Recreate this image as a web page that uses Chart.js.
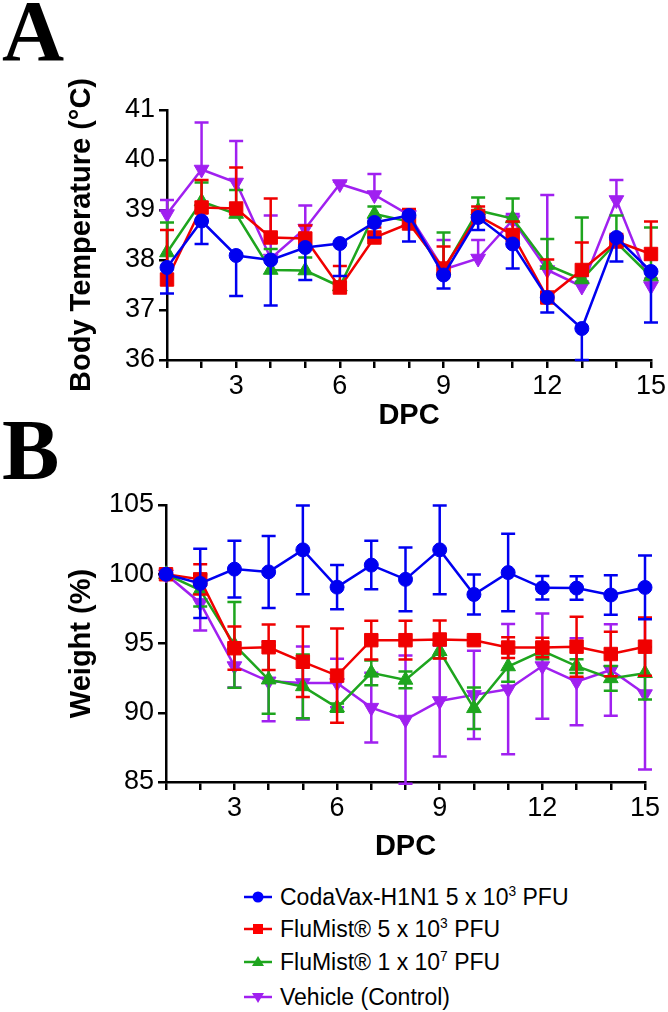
<!DOCTYPE html>
<html>
<head>
<meta charset="utf-8">
<script src="https://cdn.jsdelivr.net/npm/chart.js@4.4.0/dist/chart.umd.min.js"></script>
<style>
body { margin: 0; background: #fff; width: 668px; height: 1012px; position: relative; overflow: hidden; font-family: 'Liberation Sans', Arial, sans-serif; }
.panel { position: absolute; left: 0; width: 668px; height: 440px; }
#wrapA { top: 0; }
#wrapB { top: 440px; }
.letter { position: absolute; left: 2px; font-family: 'Liberation Serif', 'Times New Roman', serif; font-weight: bold; font-size: 86px; line-height: 86px; }
.item { position: absolute; left: 243px; height: 32px; line-height: 32px; font-size: 23px; white-space: nowrap; color: #000; }
.item svg { vertical-align: middle; margin-right: 7px; position: relative; top: -2px; }
.item sup { font-size: 0.6em; line-height: 0; }
</style>
</head>
<body>
<div class="panel" id="wrapA"><canvas id="chartA" width="668" height="440"></canvas></div>
<div class="panel" id="wrapB"><canvas id="chartB" width="668" height="440"></canvas></div>
<div class="letter" style="top:-12px">A</div>
<div class="letter" style="top:407px">B</div>

<div class="item" style="top:881px"><svg width="30" height="20"><line x1="1" y1="10" x2="29" y2="10" stroke="#0000f0" stroke-width="2.5"/><circle cx="15" cy="10" r="5.5" fill="#0000ff"/></svg>CodaVax-H1N1 5 x 10<sup>3</sup> PFU</div>
<div class="item" style="top:913px"><svg width="30" height="20"><line x1="1" y1="10" x2="29" y2="10" stroke="#f00000" stroke-width="2.5"/><rect x="10" y="5" width="10" height="10" fill="#ff0000"/></svg>FluMist® 5 x 10<sup>3</sup> PFU</div>
<div class="item" style="top:946px"><svg width="30" height="20"><line x1="1" y1="10" x2="29" y2="10" stroke="#1ea51e" stroke-width="2.5"/><polygon points="15,4 21,14 9,14" fill="#1ea51e"/></svg>FluMist® 1 x 10<sup>7</sup> PFU</div>
<div class="item" style="top:981px"><svg width="30" height="20"><line x1="1" y1="10" x2="29" y2="10" stroke="#a020f0" stroke-width="2.5"/><polygon points="9,6 21,6 15,16" fill="#a020f0"/></svg>Vehicle (Control)</div>

<script>
// days post challenge
const days = [1, 2, 3, 4, 5, 6, 7, 8, 9, 10, 11, 12, 13, 14, 15];
const xTickLabels = [3, 6, 9, 12, 15];
const seriesNames = ['CodaVax-H1N1 5 x 10³ PFU', 'FluMist® 5 x 10³ PFU', 'FluMist® 1 x 10⁷ PFU', 'Vehicle (Control)'];

// panel A: body temperature (°C)
const tempBlue   = [37.85, 38.78, 38.09, 38.0, 38.25, 38.33, 38.75, 38.89, 37.7, 38.85, 38.32, 37.25, 36.63, 38.45, 37.77];
const tempRed    = [37.61, 39.05, 39.03, 38.45, 38.43, 37.45, 38.45, 38.73, 37.83, 38.88, 38.5, 37.25, 37.8, 38.37, 38.12];
const tempGreen  = [38.15, 39.17, 38.92, 37.8, 37.79, 37.47, 38.92, 38.77, 37.8, 38.99, 38.83, 37.9, 37.61, 38.35, 37.67];
const tempPurple = [38.92, 39.81, 39.55, 38.03, 38.63, 39.52, 39.3, 38.9, 37.81, 38.03, 38.8, 37.8, 37.47, 39.2, 37.48];
const tempErrBlue   = [0.52, 0.46, 0.81, 0.91, 0.65, 0.65, 0.3, 0.52, 0.27, 0.25, 0.49, 0.3, 0.63, 0.48, 1.02];
const tempErrRed    = [0.99, 0.55, 0.82, 0.78, 0.26, 0.43, 0.2, 0.29, 0.44, 0.19, 0.27, 0.76, 0.55, 0.15, 0.65];
const tempErrGreen  = [0.6, 0.38, 0.48, 0.42, 0.26, 0.1, 0.15, 0.15, 0.75, 0.26, 0.4, 0.52, 1.24, 0.54, 0.98];
const tempErrPurple = [0.28, 0.94, 0.83, 0.86, 0.46, 0.05, 0.42, 0.1, 0.59, 0.37, 0.12, 1.5, 0.1, 0.4, 0.15];
const tempTicks = [36, 37, 38, 39, 40, 41];

// panel B: weight (%)
const weightBlue   = [100, 99.34, 100.37, 100.17, 101.76, 99.07, 100.66, 99.63, 101.76, 98.54, 100.12, 99.02, 99.0, 98.5, 99.05];
const weightRed    = [100, 99.63, 94.66, 94.73, 93.68, 92.68, 95.24, 95.24, 95.29, 95.24, 94.71, 94.71, 94.77, 94.24, 94.77];
const weightGreen  = [100, 98.85, 94.9, 92.39, 91.9, 90.37, 92.88, 92.37, 94.44, 90.32, 93.34, 94.46, 93.37, 92.48, 92.85];
const weightPurple = [100, 97.93, 93.37, 92.27, 92.15, 92.15, 90.37, 89.51, 90.85, 91.29, 91.7, 93.37, 92.24, 93.09, 91.35];
const weightErrBlue   = [0, 2.5, 2.05, 2.6, 3.2, 1.6, 1.75, 2.3, 3.2, 1.45, 2.8, 0.85, 0.85, 1.43, 2.3];
const weightErrRed    = [0, 1.1, 1.56, 1.65, 2.55, 3.4, 1.4, 1.4, 1.37, 0.2, 0.75, 0.7, 2.17, 1.6, 2.1];
const weightErrGreen  = [0, 1.17, 3.1, 2.46, 2.3, 0.3, 0.9, 0.6, 0.5, 1.5, 1.1, 0.6, 0.5, 0.9, 1.9];
const weightErrPurple = [0, 2.0, 1.54, 2.88, 2.64, 1.75, 2.52, 4.63, 4.0, 3.18, 4.7, 3.8, 3.14, 3.3, 5.45];
const weightTicks = [85, 90, 95, 100, 105];

const colors = ['#0000f0', '#f00000', '#1ea51e', '#a020f0'];

Chart.defaults.font.family = "'Liberation Sans', Arial, sans-serif";
Chart.defaults.color = '#000';

// draws error bars under each dataset, dir: 1 up, -1 down, 0 both
const errorBarPlugin = {
    id: 'errorBars',
    beforeDatasetDraw(chart, args) {
        const ds = chart.data.datasets[args.index];
        if (!ds.errors) return;
        const yScale = chart.scales.y;
        const ctx = chart.ctx;
        ctx.save();
        ctx.strokeStyle = ds.borderColor;
        ctx.lineWidth = 2.5;
        args.meta.data.forEach(function(pt, i) {
            const e = ds.errors[i];
            if (!e) return;
            const v = ds.data[i].y;
            const hi = ds.errorDir >= 0 ? v + e : v;
            const lo = ds.errorDir <= 0 ? v - e : v;
            const yHi = yScale.getPixelForValue(hi);
            const yLo = yScale.getPixelForValue(lo);
            ctx.beginPath();
            ctx.moveTo(pt.x, yHi);
            ctx.lineTo(pt.x, yLo);
            if (hi !== v) { ctx.moveTo(pt.x - 7, yHi); ctx.lineTo(pt.x + 7, yHi); }
            if (lo !== v) { ctx.moveTo(pt.x - 7, yLo); ctx.lineTo(pt.x + 7, yLo); }
            ctx.stroke();
        });
        ctx.restore();
    }
};

function makeSet(i, values, errors, dir) {
    const styles = ['circle', 'rect', 'triangle', 'triangle'];
    const radii = [7, 9.5, 8.5, 8.5];
    return {
        label: seriesNames[i],
        data: days.map(function(d, k) { return { x: d, y: values[k] }; }),
        errors: errors,
        errorDir: dir,
        borderColor: colors[i],
        backgroundColor: colors[i],
        borderWidth: 2.5,
        pointStyle: styles[i],
        pointRadius: radii[i],
        pointRotation: i === 3 ? 180 : 0,
        pointBorderWidth: 1,
        tension: 0,
        clip: false
    };
}

function makeChart(id, sets, yMin, yMax, yStep, yTicks, yTitle, area, xOpts) {
    const canvas = document.getElementById(id);
    return new Chart(canvas.getContext('2d'), {
        type: 'line',
        data: { datasets: sets },
        plugins: [errorBarPlugin],
        options: {
            responsive: false,
            animation: false,
            layout: { padding: { top: area.top, right: 668 - area.right, left: 0, bottom: 0 } },
            plugins: { legend: { display: false }, tooltip: { enabled: false } },
            scales: {
                x: {
                    type: 'linear',
                    min: 1,
                    max: 15,
                    afterFit: function(s) { s.height = 440 - area.bottom; },
                    ticks: {
                        stepSize: 1,
                        autoSkip: false,
                        maxRotation: 0,
                        padding: xOpts.tickPad,
                        font: { size: 27 },
                        callback: function(v) { return xTickLabels.includes(v) ? String(v) : ''; }
                    },
                    grid: { drawOnChartArea: false, drawTicks: true, tickLength: 8, color: '#000', lineWidth: 2.5 },
                    border: { display: true, color: '#000', width: 2.5 },
                    title: { display: true, text: 'DPC', font: { size: 29, weight: 'bold' }, padding: { top: 0, bottom: xOpts.titlePad } }
                },
                y: {
                    min: yMin,
                    max: yMax,
                    afterFit: function(s) { s.width = area.left; },
                    afterBuildTicks: function(s) { s.ticks = yTicks.map(function(v) { return { value: v }; }); },
                    ticks: { stepSize: yStep, padding: 4, font: { size: 27 } },
                    grid: { drawOnChartArea: false, drawTicks: true, tickLength: 8, color: '#000', lineWidth: 2.5 },
                    border: { display: true, color: '#000', width: 2.5 },
                    title: { display: true, text: yTitle, font: { size: 29, weight: 'bold' }, padding: { top: 65, bottom: 0 } }
                }
            }
        }
    });
}

makeChart('chartA', [
    makeSet(0, tempBlue, tempErrBlue, -1),
    makeSet(1, tempRed, tempErrRed, 1),
    makeSet(2, tempGreen, tempErrGreen, 1),
    makeSet(3, tempPurple, tempErrPurple, 1)
], 36, 41, 1, tempTicks, 'Body Temperature (°C)', { left: 167, right: 651, top: 110, bottom: 360 }, { tickPad: 2, titlePad: 7 });

makeChart('chartB', [
    makeSet(0, weightBlue, weightErrBlue, 0),
    makeSet(1, weightRed, weightErrRed, 0),
    makeSet(2, weightGreen, weightErrGreen, 0),
    makeSet(3, weightPurple, weightErrPurple, 0)
], 85, 105, 5, weightTicks, 'Weight (%)', { left: 166, right: 645, top: 65, bottom: 342 }, { tickPad: 2, titlePad: 16 });
</script>
</body>
</html>
